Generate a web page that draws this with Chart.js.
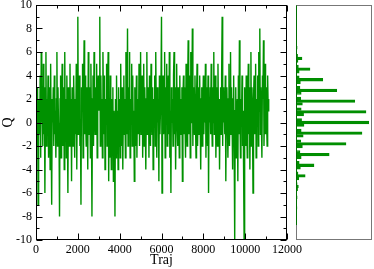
<!DOCTYPE html>
<html>
<head>
<meta charset="utf-8">
<script src="https://cdn.jsdelivr.net/npm/chart.js@4.4.0/dist/chart.umd.min.js"></script>
<style>
  html, body { margin: 0; padding: 0; background: #fff; }
  #wrap { position: relative; width: 374px; height: 269px; }
  #traj { position: absolute; left: 0; top: 0; }
  #hist { position: absolute; left: 292px; top: 0; }
</style>
</head>
<body>
<div id="wrap">
  <canvas id="traj" width="374" height="269"></canvas>
  <canvas id="hist" width="82" height="269"></canvas>
</div>
<script>
// Q along the trajectory, one value every trajStep frames
const trajStep = 25;
const qValues = [
  0, 1, -2, 3, -7, 1, 2, -1, 4, -3, 6, 0, 2, -2, 5, -1, 3, -6, 1, 6, -2, 2, 0, 4, -3, 1, 3, -4, 5, -1, -7, 2, 0, 3, -2, 4, -1, 1, -3, 2,
  6, -2, 3, 0, -1, -8, 2, 4, -3, 1, 5, -2, 0, 3, -4, 6, -1, 2, -3, 4, 0, -6, 3, 1, -2, 5, -1, 2, -5, 3, 0, -2, 4, 1, -3, 2, -1, 5, -4, 3,
  9, -1, 2, 4, -2, 0, -7, 3, 1, 5, -3, 2, 7, -1, 4, 0, -2, 3, 1, -4, 6, 2, -1, 3, -3, 5, 0, -8, 2, 4, -2, 6, 1, -1, 3, 0, 5, -3, 2, 4,
  1, 3, 9, -2, 4, 0, 2, -3, 6, 1, -1, 4, -4, 2, 0, 5, -2, 3, 6, -5, 1, -3, 4, 0, -4, 2, -1, 3, -5, 1, 0, -8, 2, -3, 4, -1, 1, -4, 3, -2,
  2, -3, 5, 0, -2, 3, -4, 1, 4, -1, 2, -3, 6, 0, -1, 8, -2, 3, 1, 6, -3, 2, 0, 5, -2, 4, -1, 1, -5, 3, 0, -2, 4, -3, 2, 1, -1, 5, -2, 3,
  6, -1, 2, 4, -3, 1, 5, -2, 3, 0, -4, 2, 6, -1, 1, 3, -3, 4, 0, -2, 5, 1, -1, 3, -4, 2, 0, 4, -2, 6, 1, -3, 3, 0, 2, -5, 4, -1, 1, 3,
  9, -6, 2, 4, -1, 1, 6, -3, 3, 0, 5, -2, 2, 4, -1, 6, -3, 1, -6, 3, 0, 2, -2, 4, 6, -1, 3, -4, 1, 5, 0, -2, 3, 1, -3, 4, -1, 2, 0, 3,
  -5, 2, 4, -1, 3, 0, -3, 5, 1, -2, 3, 7, -1, 2, 4, -3, 6, 0, 1, 8, -2, 3, 1, -1, 4, 0, -3, 2, 5, -2, 1, 3, -1, 4, 0, -4, 2, 3, -2, 1,
  4, -1, 2, 0, 5, -3, 3, 1, -2, 4, -6, 2, 0, 3, -1, 5, 1, -2, 3, 0, 6, -1, 2, 4, -3, 1, 3, -2, 5, 0, 2, -4, 1, 3, -1, 4, 9, -2, 3, 0,
  2, -1, 4, -5, 1, 3, 0, -3, 2, 5, -2, 1, 6, -1, 3, 0, -4, 2, 4, -2, -10, 1, 3, -3, 0, 2, -5, 4, -1, 7, 1, -3, 2, 0, 4, -2, 1, -4, -10, 3,
  1, -2, 4, 0, -3, 2, 5, -1, 3, -4, 1, 6, -2, 3, 0, -6, 2, 4, -1, 1, 5, -3, 2, 0, 4, -2, 6, 1, 8, -1, 3, 0, -3, 4, 2, 7, -2, 1, 5, -1,
  3, 0, -2, 4, 1, 2
];

// histogram of Q: for each integer centre, the bin just above, the centre bin and the bin just below
const histCentres = [9, 8, 7, 6, 5, 4, 3, 2, 1, 0, -1, -2, -3, -4, -5, -6, -7, -8, -9];
const histUpper = [0, 0, 0, 40, 60, 80, 100, 120, 130, 140, 130, 120, 100, 80, 50, 30, 0, 0, 0];
const histPeak = [10, 15, 30, 150, 350, 670, 1020, 1470, 1750, 1820, 1650, 1250, 830, 450, 230, 60, 30, 25, 15];
const histLower = [0, 0, 0, 50, 80, 110, 130, 160, 190, 200, 180, 160, 130, 110, 70, 40, 20, 0, 0];

const yTicks = [-10, -8, -6, -4, -2, 0, 2, 4, 6, 8, 10];
const yMinor = [-9, -7, -5, -3, -1, 1, 3, 5, 7, 9];
const xTicks = [0, 2000, 4000, 6000, 8000, 10000, 12000];
const xMinor = [1000, 3000, 5000, 7000, 9000, 11000];

const green = 'rgb(0,145,0)';
const serif = 'Liberation Serif';

// frame round the plot area, with grace-style ticks pointing inwards
const frameTicks = {
  id: 'frameTicks',
  afterDatasetsDraw(chart, args, opts) {
    const ctx = chart.ctx;
    const a = chart.chartArea;
    const l = Math.round(a.left) + 0.5, r = Math.round(a.right) - 0.5;
    const t = Math.round(a.top) + 0.5, b = Math.round(a.bottom) - 0.5;
    ctx.save();
    ctx.lineWidth = 1;
    ctx.strokeStyle = opts.color;
    ctx.strokeRect(l, t, r - l, b - t);
    if (opts.leftColor) {
      ctx.strokeStyle = opts.leftColor;
      ctx.beginPath();
      ctx.moveTo(l, t);
      ctx.lineTo(l, chart.scales.y.getPixelForValue(-9.6));
      ctx.stroke();
    }
    if (opts.ticks) {
      ctx.strokeStyle = '#000';
      ctx.beginPath();
      const ys = chart.scales.y, xs = chart.scales.x;
      const yMark = (v, len) => {
        const y = Math.round(ys.getPixelForValue(v)) + 0.5;
        ctx.moveTo(l, y); ctx.lineTo(l + len, y);
        ctx.moveTo(r, y); ctx.lineTo(r - len, y);
      };
      const xMark = (v, len) => {
        const x = Math.round(xs.getPixelForValue(v)) + 0.5;
        ctx.moveTo(x, b); ctx.lineTo(x, b - len);
        ctx.moveTo(x, t); ctx.lineTo(x, t + len);
      };
      yTicks.forEach(v => yMark(v, 6));
      yMinor.forEach(v => yMark(v, 3));
      xTicks.forEach(v => xMark(v, 6));
      xMinor.forEach(v => xMark(v, 3));
      ctx.stroke();
    }
    ctx.restore();
  }
};

const trajPoints = qValues.map((q, i) => ({ x: i * trajStep, y: q }));

new Chart(document.getElementById('traj'), {
  type: 'line',
  data: {
    datasets: [{
      data: trajPoints,
      borderColor: green,
      borderWidth: 1.4,
      pointRadius: 0,
      tension: 0,
      fill: false
    }]
  },
  options: {
    responsive: false,
    animation: false,
    events: [],
    layout: { padding: { left: 0, top: 5, right: 87, bottom: 0 } },
    plugins: {
      legend: { display: false },
      tooltip: { enabled: false },
      frameTicks: { ticks: true, color: '#000' }
    },
    scales: {
      x: {
        type: 'linear', min: 0, max: 12000,
        grid: { display: false, drawTicks: false },
        border: { display: false },
        ticks: { stepSize: 2000, padding: 3, color: '#000', maxRotation: 0, autoSkip: false,
                 font: { family: serif, size: 12 }, callback: v => String(v) },
        title: { display: true, text: 'Traj', color: '#000', padding: 0,
                 font: { family: serif, size: 14 } },
        afterFit(s) { s.height = 29; s.paddingLeft = 0; s.paddingRight = 0; }
      },
      y: {
        type: 'linear', min: -10, max: 10,
        grid: { display: false, drawTicks: false },
        border: { display: false },
        ticks: { stepSize: 2, padding: 4, color: '#000', font: { family: serif, size: 12 },
                 callback: v => String(v) },
        title: { display: true, text: 'Q', color: '#000', padding: 0,
                 font: { family: serif, size: 14 } },
        afterFit(s) { s.width = 36; s.paddingTop = 0; s.paddingBottom = 0; }
      }
    }
  },
  plugins: [frameTicks]
});

const histData = [];
histCentres.forEach((q, i) => {
  if (histUpper[i] > 0) histData.push({ x: histUpper[i], y: q + 0.25 });
  if (histPeak[i] > 0) histData.push({ x: histPeak[i], y: q });
  if (histLower[i] > 0) histData.push({ x: histLower[i], y: q - 0.25 });
});

new Chart(document.getElementById('hist'), {
  type: 'bar',
  data: {
    datasets: [{
      data: histData,
      backgroundColor: 'rgba(0,150,0,0.55)',
      borderColor: 'rgb(0,140,0)',
      borderWidth: 1,
      borderSkipped: 'start',
      categoryPercentage: 1,
      barPercentage: 1
    }]
  },
  options: {
    indexAxis: 'y',
    responsive: false,
    animation: false,
    events: [],
    layout: { padding: { left: 4, top: 5, right: 2, bottom: 29 } },
    plugins: {
      legend: { display: false },
      tooltip: { enabled: false },
      frameTicks: { ticks: false, color: '#777', leftColor: 'rgb(0,110,0)' }
    },
    scales: {
      x: { type: 'linear', min: 0, max: 1900, display: false },
      y: { type: 'linear', min: -10, max: 10, display: false }
    }
  },
  plugins: [frameTicks]
});
</script>
</body>
</html>
